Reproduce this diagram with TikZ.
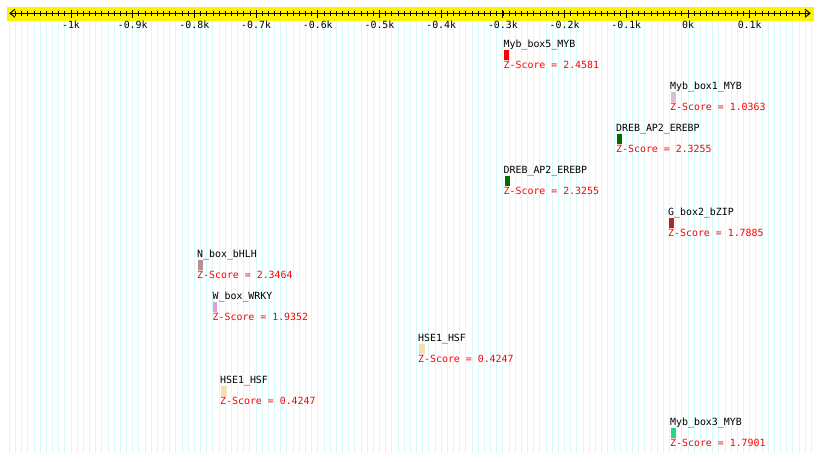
\documentclass[tikz,border=0pt]{standalone}
\usepackage{fontspec}
\setmonofont{DejaVu Sans Mono}
\definecolor{gridc}{RGB}{214,250,250}
\definecolor{zred}{RGB}{255,0,0}
\definecolor{cthistle}{RGB}{216,191,216}
\definecolor{cdgreen}{RGB}{0,110,0}
\definecolor{cbrown}{RGB}{165,42,42}
\definecolor{crosy}{RGB}{188,143,143}
\definecolor{cplum}{RGB}{221,160,221}
\definecolor{cwheat}{RGB}{245,222,179}
\definecolor{cspring}{RGB}{30,220,130}
\tikzset{
  txt/.style={anchor=base west,inner sep=0pt,font=\ttfamily\fontsize{9.9}{10}\selectfont},
  zs/.style={txt,text=zred},
  ticklab/.style={anchor=base,inner sep=0pt,font=\ttfamily\fontsize{9.9}{10}\selectfont},
  axisline/.style={line width=1pt,black},
}
\begin{document}
\begin{tikzpicture}[x=1pt,y=-1pt]
\useasboundingbox (0,0) rectangle (820,461);
\fill[white] (0,0) rectangle (820,461);
% grid
\foreach \i in {0,...,130}{
  \pgfmathsetmacro{\xx}{688+0.617*(-1100+10*\i)}
  \draw[gridc,line width=0.9pt] (\xx,20.5) -- (\xx,453);
}
% yellow band
\fill[yellow] (7,6.7) rectangle (814,20.5);
% axis
\coordinate (axL) at (10,13.3);
\coordinate (axR) at (810,13.3);
\draw[axisline] (axL) -- (axR);
\draw[axisline] (15,9.3) -- (axL) -- (15,17.3);
\draw[axisline] (805,9.3) -- (axR) -- (805,17.3);
\foreach \i in {1,...,129}{
  \pgfmathsetmacro{\xx}{688+0.617*(-1100+10*\i)}
  \draw[black,line width=0.8pt] (\xx,11) -- (\xx,16);
}
\foreach \v/\l in {-1000/-1k,-900/-0.9k,-800/-0.8k,-700/-0.7k,-600/-0.6k,-500/-0.5k,-400/-0.4k,-300/-0.3k,-200/-0.2k,-100/-0.1k,0/0k,100/0.1k}{
  \pgfmathsetmacro{\xx}{688+0.617*\v}
  \draw[black,line width=0.9pt] (\xx,9.5) -- (\xx,18);
  \node[ticklab] (t\v) at (\xx,28) {\l};
}
% motifs
\node[txt] (m1) at (503.5,47) {Myb\_box5\_MYB};
\fill[red] (504,50) rectangle (509,59.5);
\node[zs] (z1) at (503.5,68.5) {Z-Score = 2.4581};

\node[txt] (m2) at (670,89) {Myb\_box1\_MYB};
\fill[cthistle] (670.5,92) rectangle (676,101.5);
\node[zs] (z2) at (670,110.5) {Z-Score = 1.0363};

\node[txt] (m3) at (616,131) {DREB\_AP2\_EREBP};
\fill[cdgreen] (616.5,134) rectangle (621.5,143.5);
\node[zs] (z3) at (616,152.5) {Z-Score = 2.3255};

\node[txt] (m4) at (503.5,173) {DREB\_AP2\_EREBP};
\fill[cdgreen] (504.5,176) rectangle (509.5,185.5);
\node[zs] (z4) at (503.5,194.5) {Z-Score = 2.3255};

\node[txt] (m5) at (668,215) {G\_box2\_bZIP};
\fill[cbrown] (669,218) rectangle (673.5,227.5);
\node[zs] (z5) at (668,236.5) {Z-Score = 1.7885};

\node[txt] (m6) at (197,257) {N\_box\_bHLH};
\fill[crosy] (197.5,260) rectangle (203,269.5);
\node[zs] (z6) at (197,278.5) {Z-Score = 2.3464};

\node[txt] (m7) at (212.5,299) {W\_box\_WRKY};
\fill[cplum] (213,302) rectangle (217,311.5);
\node[zs] (z7) at (212.5,320.5) {Z-Score = 1.9352};

\node[txt] (m8) at (418,341) {HSE1\_HSF};
\fill[cwheat] (418.5,344) rectangle (424.5,353.5);
\node[zs] (z8) at (418,362.5) {Z-Score = 0.4247};

\node[txt] (m9) at (220,383) {HSE1\_HSF};
\fill[cwheat] (220.5,386) rectangle (226.5,395.5);
\node[zs] (z9) at (220,404.5) {Z-Score = 0.4247};

\node[txt] (m10) at (670,425) {Myb\_box3\_MYB};
\fill[cspring] (670.5,428) rectangle (675.5,437.5);
\node[zs] (z10) at (670,446.5) {Z-Score = 1.7901};
\end{tikzpicture}
\end{document}
